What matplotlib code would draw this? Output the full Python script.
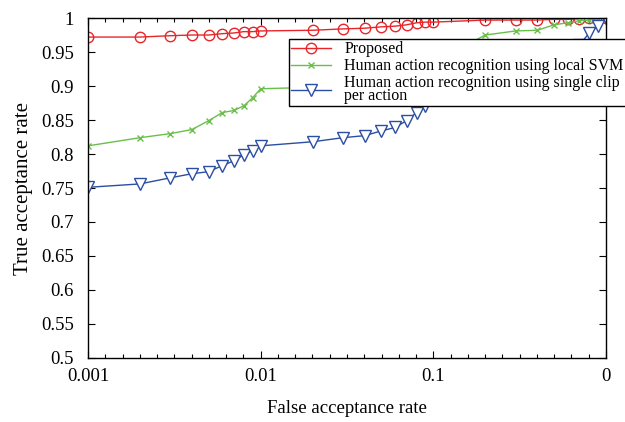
import numpy as np
import matplotlib
matplotlib.use("Agg")
import matplotlib.pyplot as plt
from matplotlib.ticker import FixedLocator, FixedFormatter

plt.rcParams["font.family"] = ["Liberation Serif", "DejaVu Serif"]

# ── Datos ────────────────────────────────────────────────────────────────
far = [0.001, 0.002, 0.003, 0.004, 0.005, 0.006, 0.007, 0.008, 0.009, 0.01,
       0.02, 0.03, 0.04, 0.05, 0.06, 0.07, 0.08, 0.09, 0.1,
       0.2, 0.3, 0.4, 0.5, 0.6, 0.7, 0.8, 0.9, 1.0]

tar_proposed = [0.972, 0.972, 0.974, 0.975, 0.975, 0.977, 0.978, 0.980, 0.980, 0.981,
                0.982, 0.984, 0.985, 0.987, 0.988, 0.990, 0.993, 0.994, 0.994,
                0.997, 0.997, 0.997, 0.998, 0.998, 0.999, 1.000, 1.000, 1.000]

tar_svm = [0.812, 0.824, 0.830, 0.836, 0.849, 0.861, 0.864, 0.871, 0.883, 0.896,
           0.898, 0.900, 0.905, 0.910, 0.915, 0.920, 0.925, 0.930, 0.935,
           0.975, 0.981, 0.982, 0.990, 0.993, 0.996, 0.997, 0.999, 1.000]

tar_single = [0.751, 0.756, 0.765, 0.771, 0.774, 0.783, 0.790, 0.799, 0.805, 0.812,
              0.818, 0.824, 0.827, 0.834, 0.839, 0.849, 0.861, 0.870, 0.880,
              0.900, 0.910, 0.920, 0.930, 0.945, 0.960, 0.978, 0.988, 1.000]

labels = ["Proposed",
          "Human action recognition using local SVM",
          "Human action recognition using single clip\nper action"]

xticks = [0.001, 0.01, 0.1, 1.0]
xticklabels = ["0.001", "0.01", "0.1", "0"]
yticks = np.round(np.arange(0.5, 1.0001, 0.05), 2)
yticklabels = ["0.5", "0.55", "0.6", "0.65", "0.7", "0.75", "0.8", "0.85",
               "0.9", "0.95", "1"]

# ── Figura ───────────────────────────────────────────────────────────────
fig = plt.figure(figsize=(6.25, 4.22), dpi=100)
ax = fig.add_axes([0.1408, 0.1517, 0.8288, 0.8056])

ax.plot(far, tar_proposed, "-o", color="#e8262a", lw=1.0, ms=7.5,
        mfc="none", mew=1.0, label=labels[0])
ax.plot(far, tar_svm, "-x", color="#6abf4b", lw=1.0, ms=4,
        mew=1.0, label=labels[1])
ax.plot(far, tar_single, "-v", color="#2b4ea2", lw=1.0, ms=8.5,
        mfc="white", mew=1.0, label=labels[2])

ax.set_xscale("log")
ax.set_xlim(0.001, 1.0)
ax.set_ylim(0.5, 1.0)

ax.xaxis.set_major_locator(FixedLocator(xticks))
ax.xaxis.set_major_formatter(FixedFormatter(xticklabels))
minor = [10 ** (-3 + k / 10) for k in range(1, 30) if k % 10 != 0]
ax.xaxis.set_minor_locator(FixedLocator(minor))
ax.xaxis.set_minor_formatter(FixedFormatter([""] * len(minor)))

ax.set_yticks(yticks)
ax.set_yticklabels(yticklabels)

ax.tick_params(which="both", direction="in", top=True, right=True,
               labelsize=13.5, width=0.8)
ax.tick_params(which="major", length=5)
ax.tick_params(axis="x", which="major", pad=7)
ax.tick_params(axis="y", which="major", pad=10)
ax.tick_params(which="minor", length=3)
for s in ax.spines.values():
    s.set_linewidth(1.0)

ax.set_xlabel("False acceptance rate", fontsize=13.5, labelpad=11)
ax.set_ylabel("True acceptance rate", fontsize=15, labelpad=6)

leg = ax.legend(loc="upper left", bbox_to_anchor=(289 / 625, 1 - 39 / 422),
                bbox_transform=fig.transFigure, fontsize=11.5, frameon=True,
                fancybox=False, edgecolor="black", framealpha=1.0,
                handlelength=2.5, handletextpad=0.8, borderpad=0.15,
                labelspacing=0.05, borderaxespad=0)
leg.get_frame().set_linewidth(1.0)
for t in leg.get_texts():
    t.set_linespacing(0.72)

fig.savefig("out.png", dpi=100)
plt.close()
